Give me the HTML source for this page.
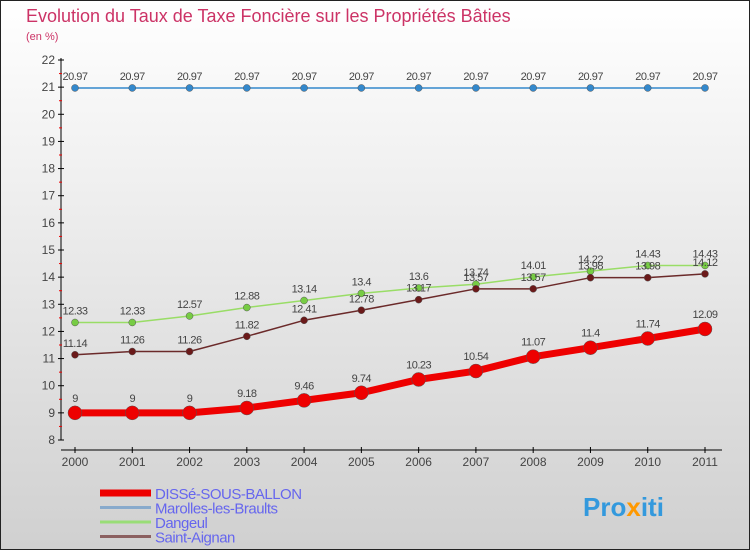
<!DOCTYPE html>
<html><head><meta charset="utf-8"><style>
body{margin:0;width:750px;height:550px;overflow:hidden;font-family:"Liberation Sans",sans-serif}
svg{display:block}
</style></head><body>
<svg width="750" height="550" xmlns="http://www.w3.org/2000/svg">
<defs><linearGradient id="bg" x1="0" y1="0" x2="0" y2="1"><stop offset="0" stop-color="#ffffff"/><stop offset="1" stop-color="#d0d0d0"/></linearGradient></defs>
<rect x="0.5" y="0.5" width="749" height="549" fill="url(#bg)" stroke="#222"/>
<text x="26" y="22" font-size="18" fill="#cc3366">Evolution du Taux de Taxe Foncière sur les Propriétés Bâties</text>
<text x="26" y="40" font-size="11" fill="#cc3366">(en %)</text>
<g id="axes"></g><g id="series"></g><g id="legend"></g>
<text x="583" y="516" font-size="26" font-weight="bold" fill="#3399dd">Pro<tspan fill="#ff9900">x</tspan>iti</text>
</svg>
<script>
const years=[2000,2001,2002,2003,2004,2005,2006,2007,2008,2009,2010,2011];
const disse=[9,9,9,9.18,9.46,9.74,10.23,10.54,11.07,11.4,11.74,12.09];
const marolles=[20.97,20.97,20.97,20.97,20.97,20.97,20.97,20.97,20.97,20.97,20.97,20.97];
const dangeul=[12.33,12.33,12.57,12.88,13.14,13.4,13.6,13.74,14.01,14.22,14.43,14.43];
const aignan=[11.14,11.26,11.26,11.82,12.41,12.78,13.17,13.57,13.57,13.98,13.98,14.12];
const yTicks=[8,9,10,11,12,13,14,15,16,17,18,19,20,21,22];
const NS="http://www.w3.org/2000/svg";
const X=i=>75+i*(630/11);
const Y=v=>440-(v-8)*(380/14);
function mk(p,t,a){const e=document.createElementNS(NS,t);for(const k in a)e.setAttribute(k,a[k]);p.appendChild(e);return e;}
const ax=document.getElementById('axes');
let l=mk(ax,'line',{x1:61,y1:58,x2:61,y2:440,stroke:'#000'});


l=mk(ax,'line',{x1:61,y1:450,x2:722,y2:450,stroke:'#000'});


yTicks.forEach(v=>{
 mk(ax,'line',{x1:58,y1:Y(v),x2:64,y2:Y(v),stroke:'#000'});
 if(v<22)mk(ax,'line',{x1:59,y1:Y(v+0.5),x2:62,y2:Y(v+0.5),stroke:'#e00'});
 const t=mk(ax,'text',{x:55,y:Y(v)+4,'font-size':12,fill:'#444','text-anchor':'end'});t.textContent=v;
 
 
});
years.forEach((y,i)=>{
 mk(ax,'line',{x1:X(i),y1:447,x2:X(i),y2:453,stroke:'#000'});
 const t=mk(ax,'text',{x:X(i),y:466,'font-size':12,fill:'#444','text-anchor':'middle'});t.textContent=y;
 
 
});
const S=document.getElementById('series');
function series(name,data,color,lw,r,fill,lblColor,lblDy){
 const g=mk(S,'g',{});
 
 
 mk(g,'polyline',{points:data.map((v,i)=>X(i)+','+Y(v)).join(' '),fill:'none',stroke:color,'stroke-width':lw,'stroke-linejoin':'round'});
 data.forEach((v,i)=>{
  const c=mk(g,'circle',{cx:X(i),cy:Y(v),r:r,fill:fill,stroke:'#555','stroke-width':0.5});
  
  
  const t=mk(g,'text',{x:X(i),y:Y(v)+lblDy,'font-size':11,fill:lblColor,'text-anchor':'middle','letter-spacing':'-0.5'});
  t.textContent=v;
 });
}
series('series-marolles',marolles,'#3388cc',1.5,3.5,'#3388cc','#444',-8);
series('series-dangeul',dangeul,'#99dd66',1.5,3.5,'#77cc44','#444',-8);
series('series-saint-aignan',aignan,'#6b2a2a',1.5,3.5,'#6b1a1a','#444',-8);
series('series-disse',disse,'#ee0000',7,7,'#ee0000','#444',-11);
const L=document.getElementById('legend');
const items=[['DISSé-SOUS-BALLON','#ee0000',7],['Marolles-les-Braults','#88aacc',3],['Dangeul','#99dd77',3],['Saint-Aignan','#8b6060',3]];
items.forEach((it,k)=>{
 const yy=493+k*14.5;
 const g=mk(L,'g',{});
 
 
 mk(g,'line',{x1:100,y1:yy,x2:151,y2:yy,stroke:it[1],'stroke-width':it[2]});
 const t=mk(g,'text',{x:155,y:yy+6,'font-size':15,fill:'#6666ee','letter-spacing':'-0.5'});t.textContent=it[0];
});
</script>
</body></html>
